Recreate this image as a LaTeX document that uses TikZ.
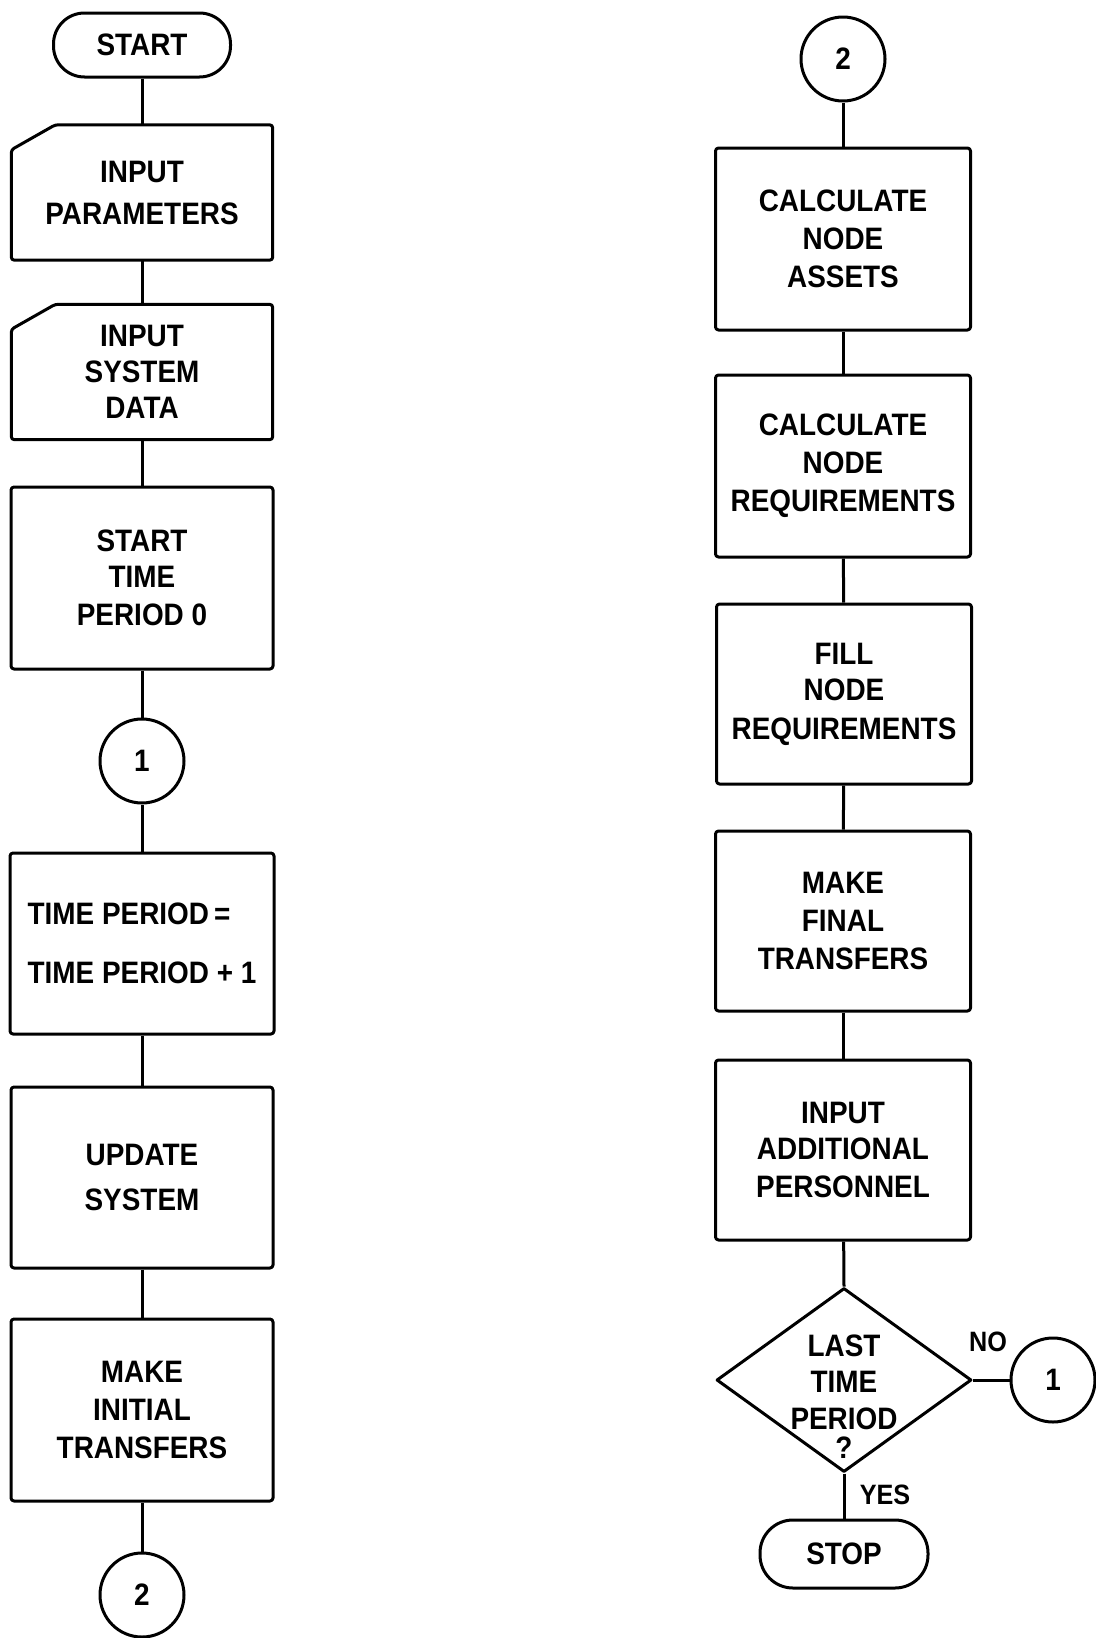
\documentclass[tikz,border=0pt]{standalone}
\usepackage{fontspec}
\setmainfont{Liberation Sans}[FakeStretch=0.9]
\usetikzlibrary{shapes.geometric}
\newcommand\flowfont{\fontsize{31}{38}\selectfont\bfseries}
\newcommand\smallflowfont{\fontsize{28}{34}\selectfont\bfseries}
\begin{document}
\begin{tikzpicture}[x=1pt,y=-1pt,
  ln/.style={line width=3pt, line join=round},
  procbox/.style={draw, ln, rounded corners=3pt, minimum width=255pt, minimum height=181pt, inner sep=0pt, align=center, font=\flowfont},
  cardbox/.style={rectangle, minimum width=261pt, minimum height=135pt, inner sep=0pt, align=center, font=\flowfont},
  conn/.style={draw, ln, circle, minimum size=84pt, inner sep=0pt, font=\flowfont},
  term/.style={draw, ln, rectangle, rounded corners=31pt, inner sep=0pt, font=\flowfont},
  lbl/.style={inner sep=0pt, font=\smallflowfont}]
\useasboundingbox (0,0) rectangle (1095,1638);
% left column
\node[term, minimum width=177pt, minimum height=64pt] (start) at (142,45) {START};
\node[cardbox] (inpar) at (142,192.5) {INPUT\\[4pt]PARAMETERS};
\draw[ln, rounded corners=3pt] ([yshift=-25pt]inpar.north west) -- ([xshift=44pt]inpar.north west) -- (inpar.north east) -- (inpar.south east) -- (inpar.south west) -- cycle;
\node[cardbox] (insys) at (142,372) {INPUT\\[-2pt]SYSTEM\\[-2pt]DATA};
\draw[ln, rounded corners=3pt] ([yshift=-25pt]insys.north west) -- ([xshift=44pt]insys.north west) -- (insys.north east) -- (insys.south east) -- (insys.south west) -- cycle;
\node[procbox, minimum width=262pt, minimum height=182pt] (stp0) at (142,578) {START\\[-2pt]TIME\\PERIOD 0};
\node[conn] (c1) at (142,761) {1};
\node[procbox, minimum width=264pt, align=left] (tp) at (142,943.5) {TIME PERIOD\,=\\[21pt]TIME PERIOD + 1};
\node[procbox, minimum width=262pt] (upd) at (142,1177.5) {UPDATE\\[7pt]SYSTEM};
\node[procbox, minimum width=262pt, minimum height=182pt] (mit) at (142,1410) {MAKE\\INITIAL\\TRANSFERS};
\node[conn] (c2) at (142,1595) {2};
\draw[ln] (start) -- (inpar);
\draw[ln] (inpar) -- (insys);
\draw[ln] (insys) -- (stp0);
\draw[ln] (stp0) -- (c1);
\draw[ln] (c1) -- (tp);
\draw[ln] (tp) -- (upd);
\draw[ln] (upd) -- (mit);
\draw[ln] (mit) -- (c2);
% right column
\node[conn] (c2r) at (843,59) {2};
\node[procbox, minimum height=182pt] (cna) at (843,239) {CALCULATE\\NODE\\ASSETS};
\node[procbox, minimum height=182pt] (cnr) at (843,466) {CALCULATE\\NODE\\REQUIREMENTS};
\node[procbox, minimum height=180pt] (fnr) at (844,694) {FILL\\[-2pt]NODE\\[1pt]REQUIREMENTS};
\node[procbox, minimum height=180pt] (mft) at (843,921) {MAKE\\FINAL\\TRANSFERS};
\node[procbox, minimum height=180pt] (iap) at (843,1150) {INPUT\\[-2pt]ADDITIONAL\\PERSONNEL};
\node[diamond, draw, ln, minimum width=255pt, minimum height=184pt, inner sep=0pt] (dec) at (844,1380) {};
\node[inner sep=0pt, align=center, font=\flowfont] (dtext) at (844,1397) {LAST\\[-2pt]TIME\\[-1pt]PERIOD\\[-9pt]?};
\node[conn] (c1r) at (1053,1380) {1};
\node[term, minimum width=168pt, minimum height=68pt, rounded corners=33pt] (stop) at (844,1554) {STOP};
\draw[ln] (c2r) -- (cna);
\draw[ln] (cna) -- (cnr);
\draw[ln] (cnr) -- (fnr);
\draw[ln] (fnr) -- (mft);
\draw[ln] (mft) -- (iap);
\draw[ln] (iap) -- (dec.north);
\draw[ln] (dec.east) -- (c1r.west);
\draw[ln] (dec.south) -- (stop.north);
\node[lbl] (nolbl) at (988,1342) {NO};
\node[lbl] (yeslbl) at (885,1495) {YES};
\end{tikzpicture}
\end{document}
